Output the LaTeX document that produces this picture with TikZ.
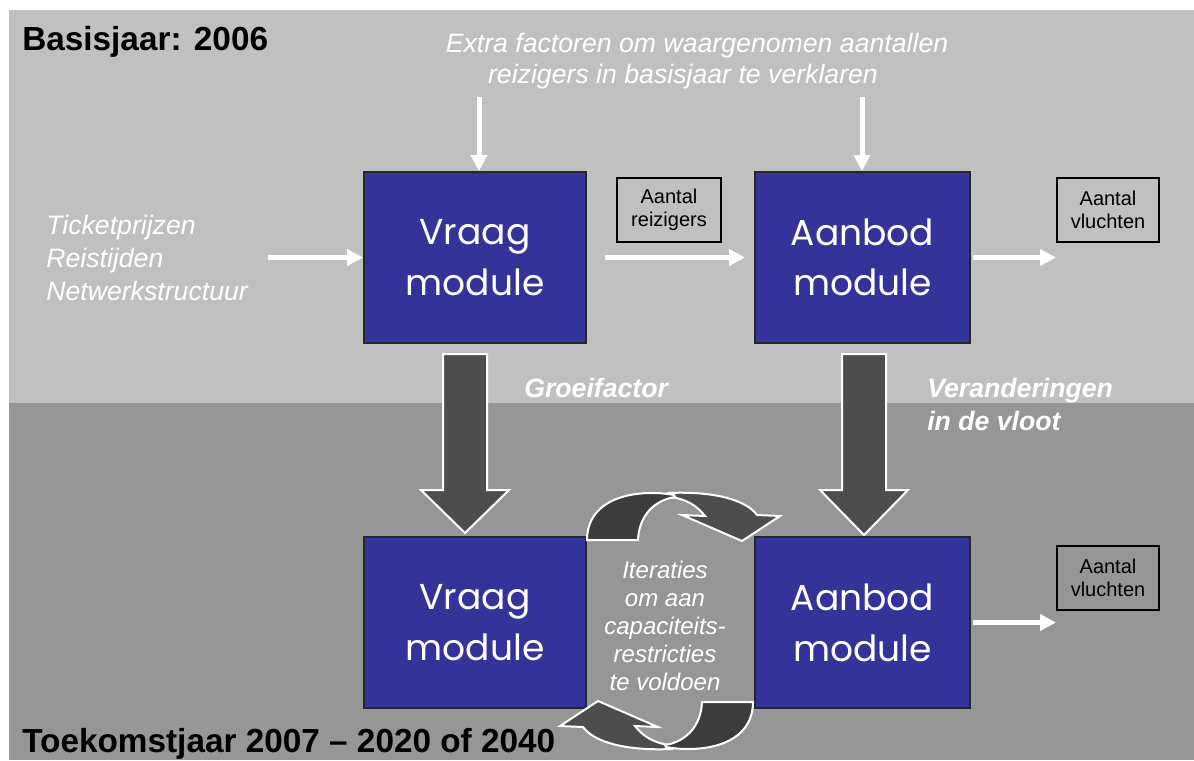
\documentclass[tikz,border=0pt]{standalone}
\usepackage{fontspec}
\setmainfont{Liberation Sans}
\newfontfamily\geo{Poppins}
\usetikzlibrary{arrows.meta}
\definecolor{bglight}{HTML}{C0C0C0}
\definecolor{bgdark}{HTML}{969696}
\definecolor{modblue}{HTML}{333399}
\definecolor{blk}{HTML}{4D4D4D}
\definecolor{blkd}{HTML}{3C3C3C}
\begin{document}
\begin{tikzpicture}[x=0.75pt,y=-0.75pt,
  module/.style={draw=black!85,line width=1.5pt,fill=modblue,text=white,align=center,
    font=\geo\fontsize{27}{38}\selectfont,minimum height=128.25pt,inner sep=0pt},
  infobox/.style={draw=black,line width=1.5pt,align=center,
    font=\fontsize{15}{17.25}\selectfont,minimum height=48pt,inner sep=0pt},
  wlabel/.style={text=white,font=\itshape\fontsize{20}{24.4}\selectfont,inner sep=0pt},
  blabel/.style={text=white,font=\bfseries\itshape\fontsize{20}{24.75}\selectfont,inner sep=0pt,align=left},
  titletext/.style={font=\bfseries\fontsize{25}{30}\selectfont,inner sep=0pt},
  warrow/.style={draw=white,line width=3.75pt,-{Triangle[length=12pt,width=12pt]}},
  bigarrow/.style={fill=blk,draw=white,line width=1.5pt,line join=miter},
  cycdark/.style={fill=blkd,draw=white,line width=1.5pt},
  cyclight/.style={fill=blk,draw=white,line width=1.5pt},
  itertext/.style={text=white,font=\itshape\fontsize{18}{21}\selectfont,align=center,inner sep=0pt}
]
\useasboundingbox (0,0) rectangle (1194,760);
% background
\fill[white] (0,0) rectangle (1194,760);
\fill[bglight] (9,10) rectangle (1194,403);
\fill[bgdark] (9,403) rectangle (1194,760);

% titles
\node[titletext,anchor=base west] (title1) at (22,50) {Basisjaar: 2006};
\node[titletext,anchor=base west] (title2) at (22,752) {Toekomstjaar 2007 – 2020 of 2040};

% top texts
\node[wlabel,anchor=base] (extra1) at (697,52) {Extra factoren om waargenomen aantallen};
\node[wlabel,anchor=base] (extra2) at (683,83) {reizigers in basisjaar te verklaren};
\node[wlabel,anchor=base west,align=left] (inputs) at (46,300) {Ticketprijzen\\Reistijden\\Netwerkstructuur};

% modules
\node[module,minimum width=166.5pt] (vraag1) at (475,257.5) {Vraag\\module};
\node[module,minimum width=161.25pt] (aanbod1) at (862.5,257.5) {Aanbod\\module};
\node[module,minimum width=166.5pt] (vraag2) at (475,622.5) {Vraag\\module};
\node[module,minimum width=161.25pt] (aanbod2) at (862.5,622.5) {Aanbod\\module};

% info boxes
\node[infobox,minimum width=78pt] (reiz) at (669,210) {Aantal\\reizigers};
\node[infobox,minimum width=76.5pt] (vl1) at (1108,210) {Aantal\\vluchten};
\node[infobox,minimum width=76.5pt] (vl2) at (1108,578) {Aantal\\vluchten};

% white arrows
\coordinate (inL) at (268,257.5);
\draw[warrow] (inL) -- (inL -| vraag1.west);
\coordinate (t1) at (479,97);
\draw[warrow] (t1) -- (t1 |- vraag1.north);
\coordinate (t2) at (862,97);
\draw[warrow] (t2) -- (t2 |- aanbod1.north);
\draw[warrow,shorten <=13.5pt,shorten >=6.75pt] (vraag1.east) -- (aanbod1.west);
\draw[warrow,shorten <=1.5pt] (aanbod1.east) -- (aanbod1.east -| vl1.west);
\draw[warrow,shorten <=1.5pt] (aanbod2.east) -- (aanbod2.east -| vl2.west);

% big block arrows
\draw[bigarrow] (443,354) -- (487,354) -- (487,490) -- (509,490) -- (465,533) -- (421,490) -- (443,490) -- cycle;
\draw[bigarrow] (842,354) -- (886,354) -- (886,490) -- (908,490) -- (864,535) -- (820,490) -- (842,490) -- cycle;

\node[blabel,anchor=base west] (groei) at (524,397) {Groeifactor};
\node[blabel,anchor=base west] (verand) at (927,430) {Veranderingen\\in de vloot};

% circular arrows
\foreach \rot in {0,180}{
\begin{scope}[rotate around={\rot:(670,621)}]
\draw[cyclight] (668,493) .. controls (715,491) and (746,500) .. (757,515) -- (780,516) -- (742,541) -- (682,515) -- (705,516) .. controls (697,506) and (687,499) .. (670,497) -- cycle;
\draw[cycdark] (587,540) .. controls (587,508) and (615,493) .. (652,493) .. controls (662,493) and (668,494) .. (674,495) -- (675,497) .. controls (655,500) and (639,515) .. (638,540) -- cycle;
\end{scope}
}
\node[itertext,anchor=base] (iter) at (665,690) {Iteraties\\om aan\\capaciteits-\\restricties\\te voldoen};
\end{tikzpicture}
\end{document}
